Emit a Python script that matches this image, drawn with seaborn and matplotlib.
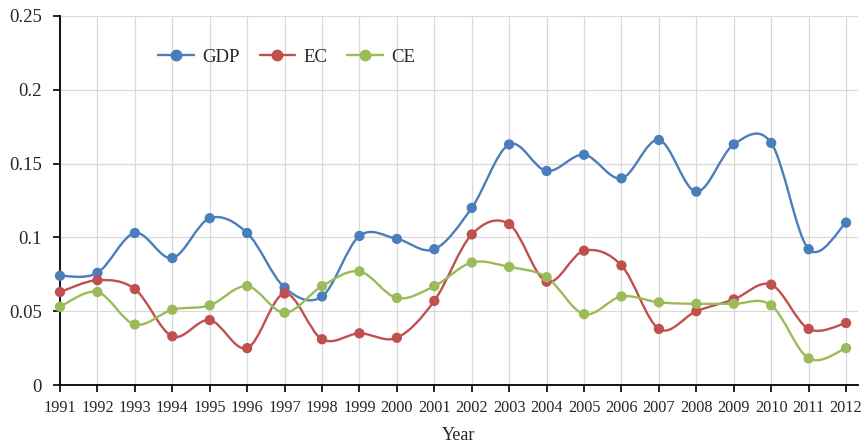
import numpy as np
import pandas as pd
import matplotlib
matplotlib.use("Agg")
import matplotlib.pyplot as plt
from matplotlib.path import Path
from matplotlib.patches import PathPatch
from matplotlib.lines import Line2D
import seaborn as sns

# data
years = list(range(1991, 2013))
gdp = [0.074, 0.076, 0.103, 0.086, 0.113, 0.103, 0.066, 0.060, 0.101, 0.099, 0.092,
       0.120, 0.163, 0.145, 0.156, 0.140, 0.166, 0.131, 0.163, 0.164, 0.092, 0.110]
ec = [0.063, 0.071, 0.065, 0.033, 0.044, 0.025, 0.062, 0.031, 0.035, 0.032, 0.057,
      0.102, 0.109, 0.070, 0.091, 0.081, 0.038, 0.050, 0.058, 0.068, 0.038, 0.042]
ce = [0.053, 0.063, 0.041, 0.051, 0.054, 0.067, 0.049, 0.067, 0.077, 0.059, 0.067,
      0.083, 0.080, 0.073, 0.048, 0.060, 0.056, 0.055, 0.055, 0.054, 0.018, 0.025]
series_names = ["GDP", "EC", "CE"]
series_colors = ["#4a7ebb", "#c0504d", "#9bbb59"]
y_ticks = [0, 0.05, 0.1, 0.15, 0.2, 0.25]
y_labels = ["0", "0.05", "0.1", "0.15", "0.2", "0.25"]

df = pd.DataFrame({"Year": years * 3,
                   "value": gdp + ec + ce,
                   "series": sum([[n] * len(years) for n in series_names], [])})

sns.set_style("white")
plt.rcParams["font.family"] = ["Liberation Serif", "DejaVu Serif"]


def smooth_path(xs, ys):
    # excel-style smoothed line: cubic bezier segments, catmull-rom control points
    pts = np.column_stack([xs, ys]).astype(float)
    verts = [pts[0]]
    codes = [Path.MOVETO]
    n = len(pts)
    for i in range(n - 1):
        p0 = pts[i - 1] if i > 0 else pts[i]
        p1, p2 = pts[i], pts[i + 1]
        p3 = pts[i + 2] if i + 2 < n else pts[i + 1]
        c1 = p1 + (p2 - p0) / 6
        c2 = p2 - (p3 - p1) / 6
        verts += [c1, c2, p2]
        codes += [Path.CURVE4] * 3
    return Path(verts, codes)


fig = plt.figure(figsize=(8.62, 4.43), dpi=100)
ax = fig.add_axes([0.0696, 0.1309, 0.9258, 0.833])

for name, col in zip(series_names, series_colors):
    sub = df[df["series"] == name]
    ax.add_patch(PathPatch(smooth_path(sub["Year"], sub["value"]), fill=False,
                           edgecolor=col, lw=1.7, zorder=2, clip_on=False))

sns.scatterplot(data=df, x="Year", y="value", hue="series", palette=series_colors,
                s=55, edgecolor="none", legend=False, zorder=3, clip_on=False, ax=ax)

ax.set_xlim(1991, 2012.32)
ax.set_ylim(0, 0.25)
ax.set_xticks(years)
ax.set_xticklabels([str(y) for y in years], fontsize=11.7)
ax.set_yticks(y_ticks)
ax.set_yticklabels(y_labels, fontsize=13.5)
ax.grid(True, color="#d9d9d9", lw=0.9)
ax.set_axisbelow(True)
for s in ["top", "right"]:
    ax.spines[s].set_visible(False)
for s in ["left", "bottom"]:
    ax.spines[s].set_color("black")
    ax.spines[s].set_linewidth(1.3)
ax.tick_params(axis="both", direction="out", length=5, width=1.2, color="black",
               left=True, bottom=True)
ax.tick_params(axis="y", pad=8)
ax.tick_params(axis="x", pad=6)
ax.set_xlabel("Year", fontsize=13, labelpad=8)
ax.set_ylabel("")

handles = [Line2D([], [], color=c, lw=1.7, marker="o", markersize=7.5) for c in series_colors]
ax.legend(handles, series_names, loc="center left", bbox_to_anchor=(0.102, 0.889),
          ncol=3, frameon=False, fontsize=13.5, handlelength=1.9, handletextpad=0.45,
          columnspacing=1.05, numpoints=1)

fig.savefig("out.png", dpi=100)
